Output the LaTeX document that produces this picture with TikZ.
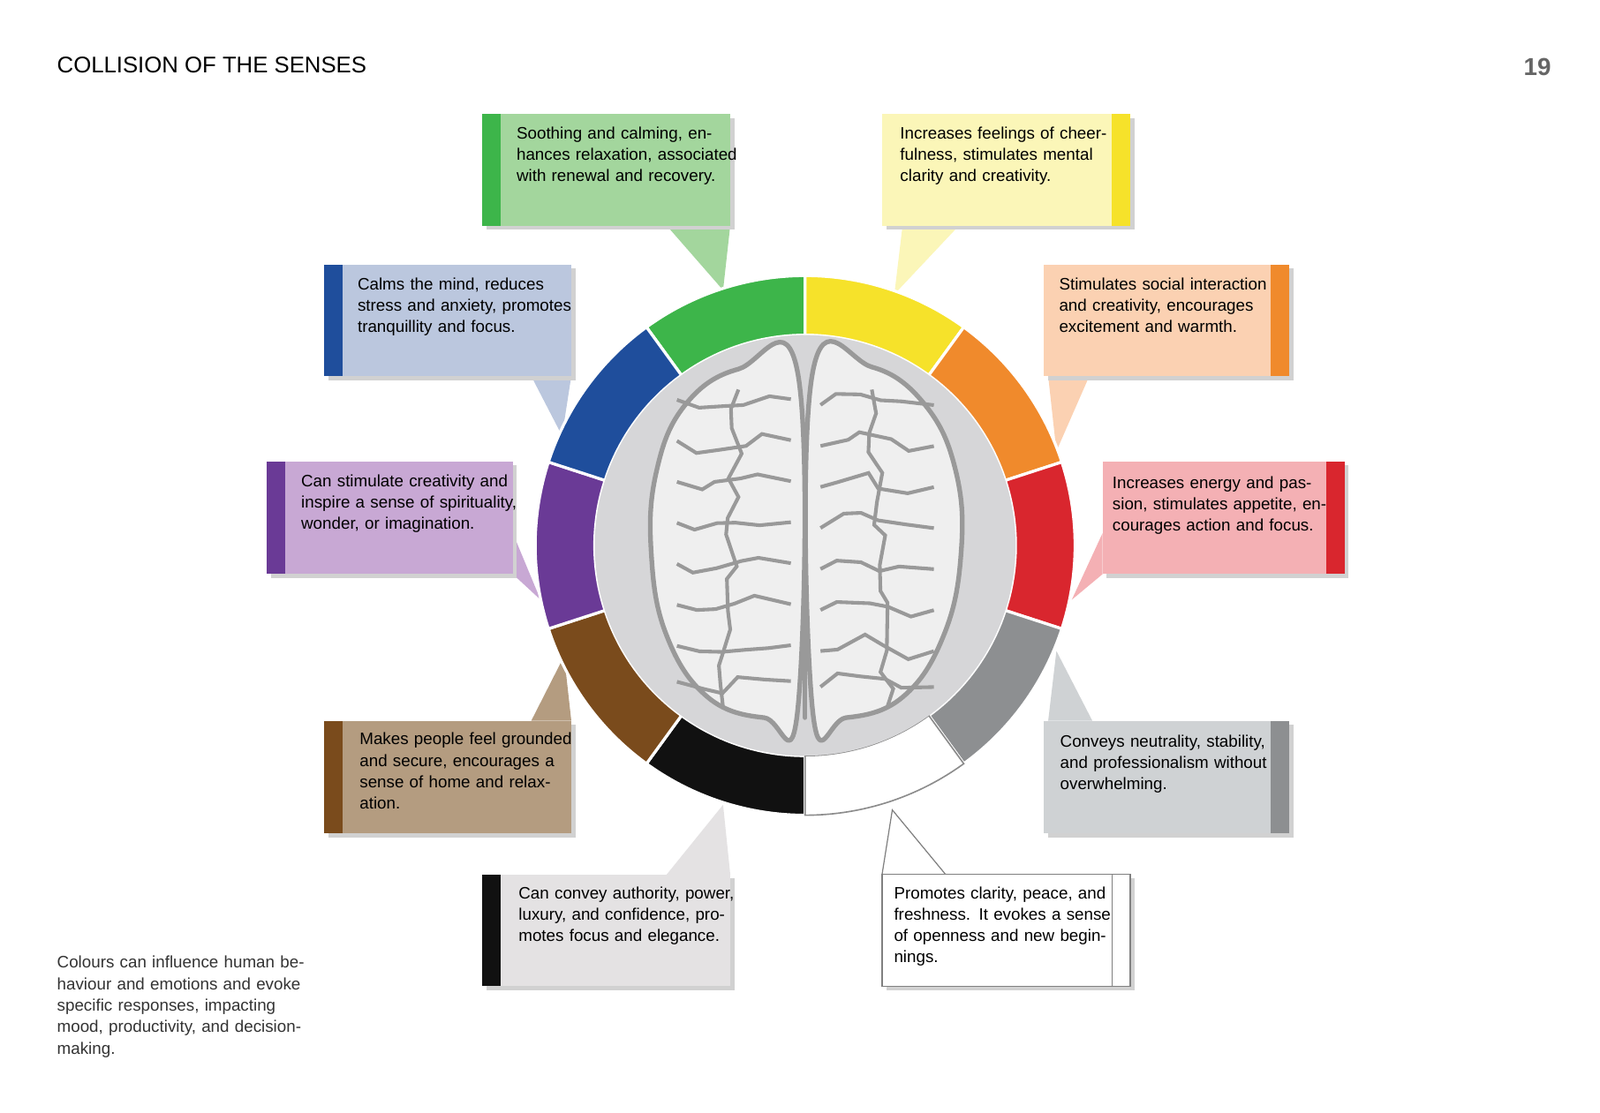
\documentclass[tikz,border=0pt]{standalone}
\usepackage{fontspec}
\setmainfont{Liberation Sans}
\usetikzlibrary{positioning,decorations.pathmorphing}

\definecolor{grnbar}{HTML}{3DB54A}\definecolor{grnfill}{HTML}{A3D69D}
\definecolor{ylwbar}{HTML}{F6E22A}\definecolor{ylwfill}{HTML}{FBF6B8}
\definecolor{blubar}{HTML}{1F4E9C}\definecolor{blufill}{HTML}{BBC7DE}
\definecolor{orgbar}{HTML}{F08A2C}\definecolor{orgfill}{HTML}{FBD1B2}
\definecolor{purbar}{HTML}{6A3A96}\definecolor{purfill}{HTML}{C8A8D4}
\definecolor{redbar}{HTML}{D9262E}\definecolor{redfill}{HTML}{F4B0B4}
\definecolor{brnbar}{HTML}{7A4B1C}\definecolor{brnfill}{HTML}{B49C80}
\definecolor{grybar}{HTML}{8D8F91}\definecolor{gryfill}{HTML}{CFD2D4}
\definecolor{blkbar}{HTML}{111111}\definecolor{blkfill}{HTML}{E4E2E3}
\definecolor{disk}{HTML}{D6D6D8}

\begin{document}
\begin{tikzpicture}[x=0.01cm, y=-0.01cm,
    boxtext/.style={anchor=north west, align=left, text width=2.15cm, inner sep=0pt,
      font=\fontsize{4.6}{5.95}\selectfont},
    shadow/.style={fill=black!18},
    brain/.style={draw=black!40, line width=1.3pt, line cap=round, line join=round},
    gyrus/.style={draw=black!40, line width=1pt, decorate,
      decoration={random steps, segment length=6pt, amplitude=2pt}},
]
\useasboundingbox (0,0) rectangle (1560,1085);
\fill[white] (0,0) rectangle (1560,1085);

% Heading and page number
\node[anchor=west, inner sep=0pt, font=\fontsize{6.3}{7}\selectfont] (title) at (55,63) {COLLISION OF THE SENSES};
\node[anchor=east, inner sep=0pt, text=black!60, font=\bfseries\fontsize{6.8}{7}\selectfont] (page) at (1513,65) {19};
\node[anchor=north west, align=left, inner sep=0pt, text width=2.5cm, text=black!80,
  font=\fontsize{4.6}{5.95}\selectfont] (note) at (55,932)
  {Colours can influence human behaviour and emotions and evoke specific responses, impacting mood, productivity, and decision-making.};

% Pointers from the boxes to the ring
\fill[grnfill] (650,220) -- (712,220) -- (705,283) -- cycle;
\fill[ylwfill] (880,220) -- (935,220) -- (872,287) -- cycle;
\fill[blufill] (518,367) -- (557,367) -- (548,425) -- cycle;
\fill[orgfill] (1022,367) -- (1062,367) -- (1030,440) -- cycle;
\fill[purfill] (500,520) -- (500,560) -- (527,585) -- cycle;
\fill[redfill] (1075,520) -- (1075,560) -- (1045,585) -- cycle;
\fill[brnfill] (518,703) -- (557,703) -- (550,640) -- cycle;
\fill[gryfill] (1022,703) -- (1065,703) -- (1030,635) -- cycle;
\fill[blkfill] (650,853) -- (712,853) -- (705,785) -- cycle;
\fill[white,draw=black!50,line width=0.3pt] (860,853) -- (922,853) -- (870,790) -- cycle;

% Colour ring
\begin{scope}[shift={(785,532)}]
\foreach \a/\c in {90/grnbar, 54/ylwbar, 18/orgbar, -18/redbar, -54/grybar,
    -90/white, -126/blkbar, -162/brnbar, 162/purbar, 126/blubar}{
  \fill[\c, draw=white, line width=0.8pt] (\a:2.63cm) arc[start angle=\a, end angle=\a+36, radius=2.63cm]
    -- (\a+36:2.05cm) arc[start angle=\a+36, end angle=\a, radius=2.05cm] -- cycle;
}
\draw[black!45, line width=0.4pt] (-90:2.63cm) arc[start angle=-90, end angle=-54, radius=2.63cm]
    -- (-54:2.05cm) arc[start angle=-54, end angle=-90, radius=2.05cm] -- cycle;
\fill[disk] (0,0) circle[radius=2.05cm];
\end{scope}

% Brain
\draw[brain, fill=white!60!disk] plot[smooth cycle, tension=0.7] coordinates
  {(778,365) (720,360) (668,395) (640,460) (635,540) (650,620) (690,680) (745,700) (778,690)};
\draw[brain, fill=white!60!disk] plot[smooth cycle, tension=0.7] coordinates
  {(792,365) (850,358) (902,395) (932,460) (937,540) (920,620) (880,680) (825,700) (792,690)};
\draw[brain] (785,600) -- (785,700);
\foreach \y in {390,430,470,510,550,590,630,665}{
  \draw[gyrus] (660,\y) .. controls (700,\y+15) and (730,\y-15) .. (770,\y+5);
  \draw[gyrus] (800,\y+5) .. controls (840,\y-15) and (870,\y+15) .. (910,\y);
}
\draw[gyrus] (720,380) -- (705,690);
\draw[gyrus] (850,380) -- (865,690);

% Boxes: green
\fill[shadow] (474,115) rectangle (716,224);
\fill[grnfill] (470,111) rectangle (712,220);
\fill[grnbar] (470,111) rectangle (488,220);
\node[boxtext] (green) at (503,123) {Soothing and calming, enhances relaxation, associated with renewal and recovery.};

% yellow
\fill[shadow] (864,115) rectangle (1106,224);
\fill[ylwfill] (860,111) rectangle (1102,220);
\fill[ylwbar] (1084,111) rectangle (1102,220);
\node[boxtext] (yellow) at (877,123) {Increases feelings of cheerfulness, stimulates mental clarity and creativity.};

% blue
\fill[shadow] (320,262) rectangle (561,371);
\fill[blufill] (316,258) rectangle (557,367);
\fill[blubar] (316,258) rectangle (334,367);
\node[boxtext] (blue) at (348,270) {Calms the mind, reduces stress and anxiety, promotes tranquillity and focus.};

% orange
\fill[shadow] (1022,262) rectangle (1261,371);
\fill[orgfill] (1018,258) rectangle (1257,367);
\fill[orgbar] (1239,258) rectangle (1257,367);
\node[boxtext] (orange) at (1032,270) {Stimulates social interaction and creativity, encourages excitement and warmth.};

% purple
\fill[shadow] (264,454) rectangle (504,564);
\fill[purfill] (260,450) rectangle (500,560);
\fill[purbar] (260,450) rectangle (278,560);
\node[boxtext] (purple) at (293,462) {Can stimulate creativity and inspire a sense of spirituality, wonder, or imagination.};

% red
\fill[shadow] (1079,454) rectangle (1315,564);
\fill[redfill] (1075,450) rectangle (1311,560);
\fill[redbar] (1293,450) rectangle (1311,560);
\node[boxtext] (red) at (1084,464) {Increases energy and passion, stimulates appetite, encourages action and focus.};

% brown
\fill[shadow] (320,707) rectangle (561,817);
\fill[brnfill] (316,703) rectangle (557,813);
\fill[brnbar] (316,703) rectangle (334,813);
\node[boxtext] (brown) at (350,714) {Makes people feel grounded and secure, encourages a sense of home and relaxation.};

% gray
\fill[shadow] (1022,707) rectangle (1261,817);
\fill[gryfill] (1018,703) rectangle (1257,813);
\fill[grybar] (1239,703) rectangle (1257,813);
\node[boxtext] (gray) at (1033,716) {Conveys neutrality, stability, and professionalism without overwhelming.};

% black
\fill[shadow] (474,857) rectangle (716,966);
\fill[blkfill] (470,853) rectangle (712,962);
\fill[blkbar] (470,853) rectangle (488,962);
\node[boxtext] (black) at (505,864) {Can convey authority, power, luxury, and confidence, promotes focus and elegance.};

% white
\fill[shadow] (864,857) rectangle (1106,966);
\draw[fill=white, draw=black!50, line width=0.3pt] (860,853) rectangle (1102,962);
\draw[fill=white, draw=black!50, line width=0.3pt] (1084,853) rectangle (1102,962);
\node[boxtext] (white) at (871,864) {Promotes clarity, peace, and freshness. It evokes a sense of openness and new beginnings.};
\end{tikzpicture}
\end{document}
